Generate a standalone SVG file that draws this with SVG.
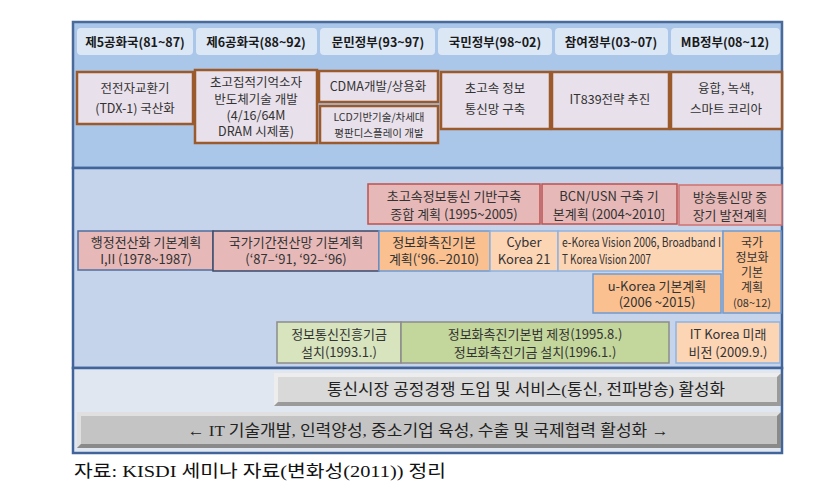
<svg xmlns="http://www.w3.org/2000/svg" width="830" height="501" viewBox="0 0 830 501">
<defs>
<style>
text{font-family:"Noto Sans CJK KR","Noto Sans",sans-serif;fill:#222;text-anchor:middle}
.tab{fill:#dce7f5}
.tabt{font-size:12.5px;font-weight:bold;fill:#1a1a1a}
.tb{fill:#e8e0ea;stroke:#9b5a2c;stroke-width:2.5}
.tbt{font-size:12.5px;fill:#333}
.sm{font-size:10.5px}
.mt{font-size:13px;fill:#333}
.nt{font-size:12px;fill:#333}
.pk{fill:#e6b9b8;stroke:#c0504d;stroke-width:1.5}
.pk2{fill:#e6b9b8;stroke:#4f6fa0;stroke-width:1.5}
.pk3{fill:#e6b9b8;stroke:#3b4a6b;stroke-width:1.5}
.or{fill:#fac090;stroke:#6f9bd1;stroke-width:1.5}
.lo{fill:#fcd5b5;stroke:#8db3e2;stroke-width:1.5}
.gl{fill:#d7e4bd;stroke:#8c8c8c;stroke-width:1.5}
.gr{fill:#c3d69b;stroke:#8c8c8c;stroke-width:1.5}
.bt{font-family:"Liberation Serif","Noto Sans CJK KR",serif;font-size:15.5px;fill:#222}
.cap{font-family:"Liberation Serif","Noto Sans CJK KR",serif;font-size:17px;fill:#111;text-anchor:start}
</style>
</defs>
<rect width="830" height="501" fill="#ffffff"/>

<!-- sections -->
<g id="frame">
<rect x="73" y="22" width="709" height="146" fill="#aac6e9" stroke="#4a6a9a" stroke-width="2.5"/>
<rect x="73" y="168" width="709" height="200" fill="#c5d4ea" stroke="#41649a" stroke-width="2.5"/>
<rect x="73" y="368" width="709" height="85" fill="#e1e7f1" stroke="#41649a" stroke-width="2.5"/>
</g>

<!-- era tabs -->
<g id="tab1"><rect class="tab" x="77" y="28" width="116" height="27" rx="4"/><text class="tabt" x="135" y="47">제5공화국(81~87)</text></g>
<g id="tab2"><rect class="tab" x="196" y="28" width="121" height="27" rx="4"/><text class="tabt" x="256" y="47">제6공화국(88~92)</text></g>
<g id="tab3"><rect class="tab" x="320" y="28" width="115" height="27" rx="4"/><text class="tabt" x="378" y="47">문민정부(93~97)</text></g>
<g id="tab4"><rect class="tab" x="438" y="28" width="114" height="27" rx="4"/><text class="tabt" x="495" y="47">국민정부(98~02)</text></g>
<g id="tab5"><rect class="tab" x="555" y="28" width="113" height="27" rx="4"/><text class="tabt" x="611" y="47">참여정부(03~07)</text></g>
<g id="tab6"><rect class="tab" x="671" y="28" width="109" height="27" rx="4"/><text class="tabt" x="725" y="47">MB정부(08~12)</text></g>

<!-- top boxes -->
<g id="tdx"><rect class="tb" x="77" y="72" width="116" height="52"/><text class="tbt" x="135" y="93">전전자교환기</text><text class="tbt" x="135" y="113">(TDX-1) 국산화</text></g>
<g id="dram"><rect class="tb" x="195" y="70" width="122" height="73"/><text class="tbt" x="256" y="87">초고집적기억소자</text><text class="tbt" x="256" y="104">반도체기술 개발</text><text class="tbt" x="256" y="120">(4/16/64M</text><text class="tbt" x="256" y="136">DRAM  시제품)</text></g>
<g id="cdma"><rect class="tb" x="319" y="71" width="119" height="31"/><text class="tbt" x="378" y="91">CDMA개발/상용화</text></g>
<g id="lcd"><rect class="tb" x="320" y="106" width="118" height="37"/><text class="tbt sm" x="379" y="121">LCD기반기술/차세대</text><text class="tbt sm" x="379" y="137">평판디스플레이 개발</text></g>
<g id="infra"><rect class="tb" x="441" y="72" width="109" height="57"/><text class="tbt" x="495" y="93">초고속 정보</text><text class="tbt" x="495" y="114">통신망 구축</text></g>
<g id="it839"><rect class="tb" x="552" y="72" width="117" height="57"/><text class="tbt" x="610" y="104">IT839전략  추진</text></g>
<g id="smart"><rect class="tb" x="671" y="72" width="111" height="57"/><text class="tbt" x="726" y="93">융합, 녹색,</text><text class="tbt" x="726" y="114">스마트 코리아</text></g>

<!-- middle row 1 -->
<g id="plan1995"><rect class="pk" x="368" y="184" width="172" height="40"/><text class="mt" x="454" y="201">초고속정보통신 기반구축</text><text class="mt" x="454" y="219">종합 계획 (1995~2005)</text></g>
<g id="bcn"><rect class="pk" x="542" y="184" width="135" height="40"/><text class="mt" x="609" y="201">BCN/USN 구축 기</text><text class="mt" x="609" y="219">본계획 (2004~2010]</text></g>
<g id="broadcast"><rect class="pk" x="679" y="185" width="103" height="40" style="stroke:#d07270"/><text class="mt" x="730" y="202">방송통신망 중</text><text class="mt" x="730" y="220">장기 발전계획</text></g>

<!-- middle row 2 -->
<g id="admin"><rect class="pk2" x="78" y="231" width="135" height="39"/><text class="mt" x="146" y="247">행정전산화 기본계획</text><text class="mt" x="146" y="264">I,II (1978~1987)</text></g>
<g id="national"><rect class="pk3" x="213" y="231" width="166" height="40"/><text class="mt" x="296" y="247">국가기간전산망 기본계획</text><text class="mt" x="296" y="264">(‘87–‘91, ‘92–‘96)</text></g>
<g id="promo"><rect class="or" x="379" y="231" width="111" height="40"/><text class="mt" x="434" y="247">정보화촉진기본</text><text class="mt" x="434" y="264">계획(‘96.–2010)</text></g>
<g id="cyber"><rect class="lo" x="490" y="231" width="68" height="40"/><text class="mt" x="524" y="247">Cyber</text><text class="mt" x="524" y="264">Korea 21</text></g>
<g id="ekorea"><rect class="lo" x="558" y="231" width="165" height="40"/><text class="mt" x="562" y="247" style="text-anchor:start" textLength="159" lengthAdjust="spacingAndGlyphs">e-Korea Vision 2006, Broadband I</text><text class="mt" x="562" y="264" style="text-anchor:start" textLength="89" lengthAdjust="spacingAndGlyphs">T Korea Vision 2007</text></g>
<g id="nplan"><rect class="or" x="723" y="231" width="58" height="82"/><text class="nt" x="752" y="247">국가</text><text class="nt" x="752" y="262">정보화</text><text class="nt" x="752" y="277">기본</text><text class="nt" x="752" y="292">계획</text><text class="nt" x="752" y="307" style="font-size:11px">(08~12)</text></g>
<g id="ukorea"><rect class="or" x="593" y="274" width="128" height="39"/><text class="mt" x="657" y="291">u-Korea 기본계획</text><text class="mt" x="657" y="307">(2006 ~2015)</text></g>

<!-- middle row 3 -->
<g id="fund"><rect class="gl" x="277" y="322" width="124" height="41"/><text class="mt" x="339" y="339">정보통신진흥기금</text><text class="mt" x="339" y="357">설치(1993.1.)</text></g>
<g id="law"><rect class="gr" x="401" y="322" width="268" height="41"/><text class="mt" x="535" y="339">정보화촉진기본법 제정(1995.8.)</text><text class="mt" x="535" y="357">정보화촉진기금 설치(1996.1.)</text></g>
<g id="itvision"><rect class="lo" x="676" y="322" width="104" height="41"/><text class="mt" x="728" y="339">IT Korea 미래</text><text class="mt" x="728" y="357">비전 (2009.9.)</text></g>

<!-- bottom bars -->
<g id="bar1">
<rect x="274" y="373" width="507" height="33" fill="#d9d9d9"/>
<polygon points="274,373 781,373 777,377 278,377 278,402 274,406" fill="#ededed"/>
<polygon points="781,373 781,406 274,406 278,402 777,402 777,377" fill="#9a9a9a"/>
<text class="bt" x="526" y="395" textLength="398" lengthAdjust="spacingAndGlyphs">통신시장 공정경쟁 도입 및 서비스(통신, 전파방송) 활성화</text>
</g>
<g id="bar2">
<rect x="77" y="412" width="704" height="36" fill="#c4c4c4"/>
<polygon points="77,412 781,412 777,416 81,416 81,444 77,448" fill="#e0e0e0"/>
<polygon points="781,412 781,448 77,448 81,444 777,444 777,416" fill="#8a8a8a"/>
<text class="bt" x="428" y="436" textLength="481" lengthAdjust="spacingAndGlyphs">←  IT 기술개발, 인력양성, 중소기업 육성, 수출 및 국제협력 활성화  →</text>
</g>

<g id="connectors"/>

<text class="cap" x="74" y="477" textLength="372" lengthAdjust="spacingAndGlyphs">자료: KISDI 세미나 자료(변화성(2011)) 정리</text>
</svg>
